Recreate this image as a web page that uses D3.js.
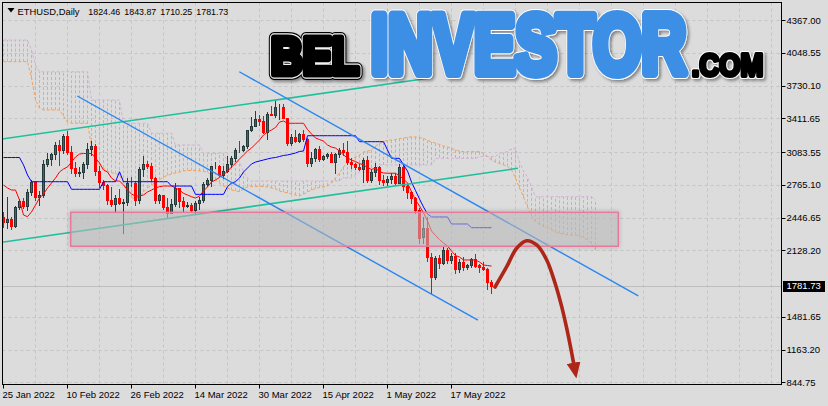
<!DOCTYPE html>
<html><head><meta charset="utf-8">
<script src="https://cdn.jsdelivr.net/npm/d3@7"></script>
<style>
html,body{margin:0;padding:0;background:#dcdcdc;}
svg{display:block;}
text{font-family:"Liberation Sans",Arial,sans-serif;}
</style></head><body>
<svg id="c" width="828" height="406"></svg>
<script>
// ---------------- DATA ----------------
const open=[2455,2406,2430,2360,2545,2610,2560,2690,2790,2650,
2670,2970,3020,3060,3150,3100,3240,3080,2925,2880,
2890,2970,3110,3140,2900,2790,2765,2620,2575,2640,
2585,2600,2785,2780,2620,2920,2970,2950,2835,2615,
2665,2550,2495,2575,2730,2610,2555,2565,2520,2590,
2620,2770,2815,2945,2950,2860,2895,2970,3030,3108,
3105,3140,3295,3335,3400,3385,3280,3455,3445,3520,
3525,3410,3170,3232,3190,3260,3210,2980,3030,3117,
3020,3040,3060,2990,3060,3100,3080,2985,2965,2935,
2920,3005,2810,2890,2935,2815,2790,2825,2855,2785,
2940,2750,2695,2640,2520,2260,2340,2060,1870,2050,
2000,2130,2030,2070,1950,2015,1965,1985,2040,1985,
1970,1950,1824.46];
const high=[2500,2650,2450,2560,2630,2640,2720,2815,2800,2700,
3010,3070,3070,3180,3200,3260,3285,3146,2990,2940,
2990,3170,3190,3160,2950,2810,2770,2740,2665,2720,
2630,2830,2843,2805,2940,3040,3000,2975,2845,2680,
2665,2640,2626,2780,2730,2650,2595,2590,2605,2650,
2790,2830,2950,2985,2960,2950,3040,3045,3120,3195,
3150,3300,3420,3480,3445,3433,3475,3530,3582,3550,
3555,3411,3260,3300,3270,3300,3215,3080,3125,3140,
3050,3075,3080,3070,3125,3175,3190,3030,2980,2970,
3030,3040,2920,2980,2950,2860,2850,2880,2875,2965,
2955,2760,2700,2648,2540,2450,2450,2100,2070,2080,
2160,2150,2100,2100,2040,2065,1995,2050,2090,1995,
2010,1960,1843.87];
const low=[2355,2340,2335,2350,2530,2540,2520,2670,2620,2570,
2650,2950,2960,3020,2960,3070,3060,2880,2850,2850,
2830,2930,3050,2860,2740,2720,2580,2560,2510,2580,
2300,2570,2750,2570,2592,2855,2925,2800,2590,2590,
2530,2455,2490,2560,2550,2511,2545,2505,2490,2525,
2600,2755,2750,2925,2850,2831,2890,2935,2995,3085,
3095,3125,3286,3335,3350,3270,3210,3440,3420,3405,
3410,3150,3150,3180,3180,3195,2950,2950,2995,2995,
3010,3025,2990,2880,3035,3050,2965,2930,2920,2905,
2790,2790,2795,2850,2775,2760,2760,2780,2760,2780,
2715,2640,2590,2488,2200,2195,2020,1710,1850,1960,
1990,2000,2000,1910,1920,1940,1950,1970,1965,1920,
1940,1750,1710.25];
const close=[2406,2430,2360,2545,2610,2560,2690,2790,2650,2670,
2970,3020,3060,3150,3100,3240,3080,2925,2880,2890,
2970,3110,3140,2900,2790,2765,2620,2575,2640,2585,
2600,2785,2780,2620,2920,2970,2950,2835,2615,2665,
2550,2495,2575,2730,2610,2555,2565,2520,2590,2620,
2770,2815,2945,2950,2860,2895,2970,3030,3108,3105,
3140,3295,3335,3400,3385,3280,3455,3445,3520,3525,
3410,3170,3232,3190,3260,3210,2980,3030,3117,3020,
3040,3060,2990,3060,3100,3080,2985,2965,2935,2920,
3005,2810,2890,2935,2815,2790,2825,2855,2785,2940,
2750,2695,2640,2520,2245,2340,2060,1870,2050,2000,
2130,2030,2070,1950,2015,1965,1985,2040,1980,1970,
1950,1820,1781.73];

// Ichimoku lines (one value per bar)
const tenkan=[2763,2734,2714,2714,2617,2471,2455,2501,2568,2636,
2675,2734,2782,2831,2889,2919,2938,2986,3035,3064,
3069,3069,3069,3025,2977,2909,2889,2831,2802,2802,
2763,2714,2675,2656,2656,2666,2695,2714,2734,2747,
2753,2753,2753,2734,2714,2682,2666,2649,2636,2656,
2705,2744,2792,2812,2836,2865,2894,2938,2974,3016,
3055,3093,3122,3161,3200,3249,3278,3298,3322,3375,
3385,3363,3363,3363,3363,3363,3302,3259,3220,3205,
3190,3152,3132,3122,3093,3055,3025,3006,2991,2972,
2958,2933,2914,2928,2892,2880,2877,2877,2877,2850,
2821,2782,2698,2617,2559,2491,2413,2316,2272,2233,
2199,2170,2121,2077,2063,2034,2034,2034,2034,2014,
1985,1980,1975];
const kijun=[3030,3030,3030,3030,3030,2958,2860,2795,2795,2795,
2795,2795,2795,2795,2795,2795,2795,2721,2721,2721,
2721,2721,2721,2721,2721,2795,2795,2795,2795,2892,
2795,2795,2795,2795,2795,2795,2795,2795,2795,2795,
2795,2795,2753,2753,2753,2753,2753,2753,2672,2672,
2672,2672,2672,2672,2672,2672,2747,2782,2795,2831,
2889,2928,2967,2986,2996,3006,3016,3025,3030,3040,
3050,3055,3064,3074,3089,3093,3242,3242,3242,3242,
3242,3242,3242,3242,3242,3242,3242,3242,3242,3184,
3184,3184,3184,3184,3184,3184,3103,3022,3022,3022,
2958,2899,2792,2709,2627,2549,2481,2452,2452,2452,
2452,2452,2384,2384,2384,2384,2384,2348,2348,2348,
2348,2348,2348];
const spanA=[3962,3962,3962,3962,3962,3962,3962,3803,3589,3511,
3492,3492,3492,3492,3492,3434,3375,3363,3363,3363,
3363,3363,3142,3025,2958,2928,2897,2883,2873,2860,
2780,2680,2640,2630,2650,2695,2734,2763,2789,2812,
2841,2857,2870,2880,2889,2899,2904,2904,2904,2899,
2894,2889,2850,2812,2782,2753,2734,2714,2705,2698,
2724,2744,2747,2747,2747,2747,2744,2734,2724,2705,
2695,2685,2675,2666,2656,2675,2695,2714,2729,2739,
2744,2753,2782,2831,2880,2938,2989,3016,3035,3055,
3084,3093,3103,3142,3167,3181,3200,3200,3205,3215,
3220,3225,3232,3230,3225,3217,3196,3181,3171,3157,
3142,3132,3118,3103,3093,3087,3087,3087,3087,3087,
3069,3040,3006,2986,2972,2958,2943,2909,2831,2734,
2646,2549,2462,2408,2379,2360,2345,2326,2306,2293,
2287,2277,2277,2277,2267,2248,2228,2189,2131];
const spanB=[4172,4172,4172,4172,4172,4172,4172,4075,3929,3864,
3864,3864,3864,3864,3864,3864,3864,3864,3864,3864,
3864,3864,3589,3589,3589,3589,3589,3589,3589,3589,
3363,3363,3363,3363,3363,3363,3363,3266,3266,3266,
3266,3266,3266,3152,3152,3152,3152,3152,3152,3152,
3071,3071,3071,3071,3071,3071,2989,2989,2989,2989,
2892,2831,2802,2802,2802,2802,2802,2802,2802,2802,
2802,2802,2802,2802,2802,2802,2802,2802,2802,2802,
2802,2802,2802,2802,2802,2831,2831,2831,2860,2889,
2889,2889,2889,2919,2958,2958,2958,2958,2958,2958,
2958,2958,2958,2958,2958,2958,2958,2958,3022,3022,
3022,3022,3022,3022,3022,3022,3022,3022,3022,3040,
3040,3040,3040,3040,3074,3074,3093,3113,3120,2986,
2899,2841,2743,2649,2649,2649,2649,2649,2649,2649,
2649,2649,2649,2649,2649,2649,2649,2649,2617];

const yTickValues=[4367.00,4048.55,3730.10,3411.65,3083.55,2765.10,2446.65,2128.20,1481.65,1163.20,844.75];
const yTickLabels=["4367.00","4048.55","3730.10","3411.65","3083.55","2765.10","2446.65","2128.20","1481.65","1163.20","844.75"];
const xTickBars=[0,16,32,48,64,80,96,112];
const xTickLabels=["25 Jan 2022","10 Feb 2022","26 Feb 2022","14 Mar 2022","30 Mar 2022","15 Apr 2022","1 May 2022","17 May 2022"];
const lastPrice=1781.73;
const symbolText="ETHUSD,Daily";
const ohlcLabels=["1824.46","1843.87","1710.25","1781.73"];

// drawn objects, in (bar, price) coordinates
const greenLines=[[[-0.875,3207],[106.6,3803]],[[-0.875,2204],[128.6,2925]]];
const blueLines=[[[58.95,3864],[158.7,1684]],[[18.45,3628],[118.6,1450]]];
const zoneBars=[16.8,153.7], zonePrices=[2167,2497];
const arrowPts=[[122.88,1771],[125.8,1969],[128.3,2148],[130.8,2221],[133.3,2180],[135.8,2034],[137.88,1810],[139.55,1580],[140.88,1356],[142.13,1113],[142.6,1016]];

// ---------------- CHART ----------------
const svg=d3.select("#c");
const P={l:2.5,t:2.5,r:781.5,b:384.5};
const x=d3.scaleLinear().domain([0,194]).range([3.5,779.5]);
const y=d3.scaleLinear().domain([844.75,4367]).range([382.3,20]);
const ry=v=>Math.round(y(v))+0.5;

const defs=svg.append("defs");
defs.append("clipPath").attr("id","clip").append("rect")
  .attr("x",P.l).attr("y",P.t).attr("width",P.r-P.l).attr("height",P.b-P.t);
const f=defs.append("filter").attr("id","sh").attr("x","-5%").attr("y","-40%").attr("width","110%").attr("height","180%");
f.append("feDropShadow").attr("dx",0).attr("dy",0).attr("stdDeviation",2).attr("flood-color","#000").attr("flood-opacity",0.3);
const lf=defs.append("filter").attr("id","lsh").attr("filterUnits","userSpaceOnUse")
  .attr("x",250).attr("y",0).attr("width",540).attr("height",100);
lf.append("feDropShadow").attr("dx",2).attr("dy",2).attr("stdDeviation",1.5).attr("flood-color","#000").attr("flood-opacity",0.4);
defs.append("marker").attr("id","ah").attr("markerUnits","userSpaceOnUse")
  .attr("markerWidth",16).attr("markerHeight",14).attr("refX",2).attr("refY",7).attr("orient","auto")
  .append("path").attr("d","M0,0 L16,7 L0,14 Z").attr("fill","#ad2618");

svg.append("rect").attr("width",828).attr("height",406).attr("fill","#dcdcdc");

const g=svg.append("g").attr("clip-path","url(#clip)");

// grid
for(let k=1;k<=24;k++){
  const xv=x(8*k); if(xv>P.r) break;
  g.append("line").attr("x1",xv).attr("x2",xv).attr("y1",P.t).attr("y2",P.b)
   .attr("stroke","#c4c4c4").attr("stroke-dasharray","3,3");
}
yTickValues.forEach(v=>{
  g.append("line").attr("x1",P.l).attr("x2",P.r).attr("y1",ry(v)).attr("y2",ry(v))
   .attr("stroke","#c4c4c4").attr("stroke-dasharray","3,3");
});
g.append("line").attr("x1",P.l).attr("x2",P.r).attr("y1",ry(lastPrice)).attr("y2",ry(lastPrice))
  .attr("stroke","#bdbdbd");

// cloud hatch
spanA.forEach((a,i)=>{
  const b=spanB[i];
  g.append("line").attr("x1",x(i)).attr("x2",x(i)).attr("y1",y(a)).attr("y2",y(b))
   .attr("stroke",a>=b?"#f2a566":"#ccaacc").attr("stroke-dasharray","3,2").attr("stroke-width",1);
});
const line=d3.line().x((d,i)=>x(i)).y(d=>y(d));
g.append("path").datum(spanB).attr("d",line).attr("fill","none").attr("stroke","#d2b2d2").attr("stroke-dasharray","3,2");
g.append("path").datum(spanA).attr("d",line).attr("fill","none").attr("stroke","#f4a05a").attr("stroke-dasharray","3,2");

// candles
close.forEach((c,i)=>{
  const o=open[i], up=c>=o;
  const col=up?"#2a3f3f":"#ff0000";
  g.append("line").attr("x1",x(i)).attr("x2",x(i)).attr("y1",Math.round(y(high[i]))).attr("y2",Math.round(y(low[i]))+1)
   .attr("stroke",col);
  const t=Math.round(y(Math.max(o,c))), bt=Math.round(y(Math.min(o,c)));
  g.append("rect").attr("x",x(i)-1).attr("width",2).attr("y",t+0.5).attr("height",Math.max(0,bt-t))
   .attr("fill",up?"#3d6b62":"#ff0000").attr("stroke",up?"#24393a":"#ff0000");
});

// tenkan / kijun
g.append("path").datum(tenkan).attr("d",line).attr("fill","none").attr("stroke","#ff0000");
g.append("path").datum(kijun).attr("d",line).attr("fill","none").attr("stroke","#0000ff");

// trend lines
const pl=d3.line().x(d=>x(d[0])).y(d=>y(d[1]));
greenLines.forEach(l=>g.append("path").attr("d",pl(l)).attr("stroke","#1fbf9c").attr("stroke-width",1.6).attr("fill","none"));
blueLines.forEach(l=>g.append("path").attr("d",pl(l)).attr("stroke","#2a86f0").attr("stroke-width",1.4).attr("fill","none"));

// zone rectangle
g.append("rect").attr("x",x(zoneBars[0])).attr("y",y(zonePrices[1]))
 .attr("width",x(zoneBars[1])-x(zoneBars[0])).attr("height",y(zonePrices[0])-y(zonePrices[1]))
 .attr("fill","rgba(196,196,196,0.5)").attr("stroke","#e57a9c").attr("stroke-width",1.5).attr("filter","url(#sh)");

// arrow
svg.append("path").attr("d",d3.line().x(d=>x(d[0])).y(d=>y(d[1])).curve(d3.curveCatmullRom)(arrowPts))
 .attr("fill","none").attr("stroke","#ad2618").attr("stroke-width",3.6).attr("stroke-linecap","round")
 .attr("marker-end","url(#ah)");

// logo watermark (heavy, condensed letters)
const LOGO_FONT='"Liberation Sans Narrow","Liberation Sans",Arial,sans-serif';
const logo=svg.append("g").attr("filter","url(#lsh)");
function logoWord(txt,x0,bottom,fs,s,targetW,layers){
  const grp=logo.append("g");
  const probe=grp.append("text").attr("font-family",LOGO_FONT).attr("font-size",fs).attr("font-weight","bold").text(txt);
  const nat=probe.node().getComputedTextLength();
  probe.remove();
  const sx=targetW/(nat+s);
  grp.attr("transform",`translate(${x0+s/2*sx},${bottom-s/2}) scale(${sx},1)`);
  layers.forEach(L=>grp.append("text").attr("font-family",LOGO_FONT).attr("font-size",fs).attr("font-weight","bold")
    .attr("fill",L.fill).attr("stroke",L.stroke).attr("stroke-width",L.sw).attr("stroke-linejoin","round").text(txt));
}
logoWord("BEL",268,77,51.7,7,94,[{fill:"#000",stroke:"#000",sw:12},{fill:"#000",stroke:"#f2f2f2",sw:9.5},{fill:"#000",stroke:"#000",sw:7}]);
logoWord("INVESTOR",367,78,83.8,10,323,[{fill:"#fff",stroke:"#ffffff",sw:12},{fill:"#3d8fe6",stroke:"#3d8fe6",sw:10}]);
logoWord(".COM",690,78,30.7,4,75,[{fill:"#fff",stroke:"#ffffff",sw:6},{fill:"#000",stroke:"#000",sw:4}]);

// frame
svg.append("rect").attr("x",P.l).attr("y",P.t).attr("width",P.r-P.l).attr("height",P.b-P.t)
  .attr("fill","none").attr("stroke","#000");

// y axis
yTickValues.forEach((v,k)=>{
  svg.append("line").attr("x1",P.r).attr("x2",P.r+4).attr("y1",ry(v)).attr("y2",ry(v)).attr("stroke","#000");
  svg.append("text").attr("x",786.5).attr("y",y(v)+3.5).attr("font-size",9.5).attr("fill","#000").text(yTickLabels[k]);
});
svg.append("rect").attr("x",783).attr("y",Math.round(y(lastPrice))-5).attr("width",42).attr("height",11).attr("fill","#000");
svg.append("text").attr("x",786.5).attr("y",y(lastPrice)+3.5).attr("font-size",9.5).attr("fill","#fff").text(lastPrice.toFixed(2));

// x axis
xTickBars.forEach((b,k)=>{
  svg.append("line").attr("x1",x(b)).attr("x2",x(b)).attr("y1",P.b).attr("y2",P.b+4).attr("stroke","#000");
  svg.append("text").attr("x",x(b)-1).attr("y",398).attr("font-size",9.5).attr("fill","#000").text(xTickLabels[k]);
});

// title
svg.append("path").attr("d","M7.5,8 L14.5,8 L11,12.5 Z").attr("fill","#000");
svg.append("text").attr("x",17.5).attr("y",14.5).attr("font-size",9.6).attr("fill","#000")
  .attr("textLength",62).attr("lengthAdjust","spacingAndGlyphs").text(symbolText);
ohlcLabels.forEach((t,k)=>svg.append("text").attr("x",88.3+36*k).attr("y",14.5).attr("font-size",9.6).attr("fill","#000")
  .attr("textLength",32).attr("lengthAdjust","spacingAndGlyphs").text(t));
</script>
</body></html>
